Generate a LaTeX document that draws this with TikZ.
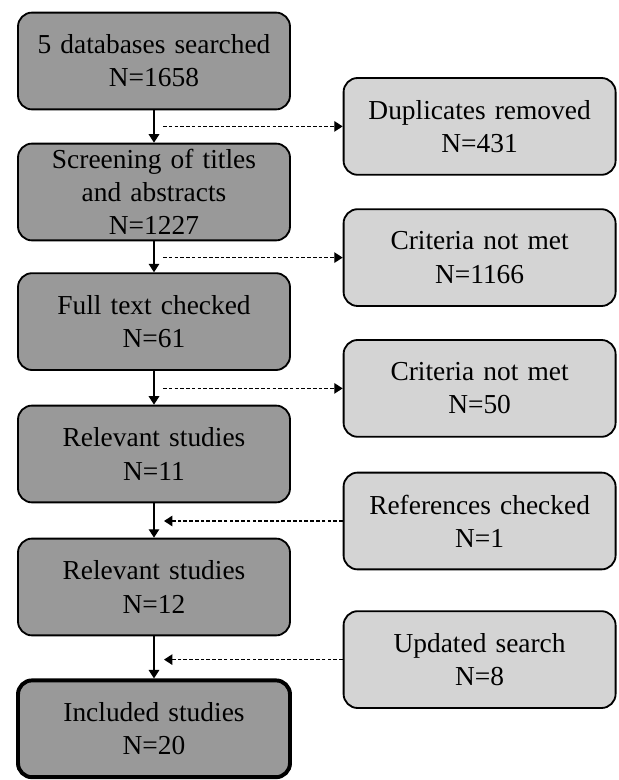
\documentclass[tikz,border=0pt]{standalone}
\usepackage{fontspec}
\setmainfont{Liberation Serif}
\usetikzlibrary{arrows.meta}

\begin{document}
\begin{tikzpicture}[
  font=\fontsize{19.5}{23.6}\selectfont, >={Triangle[length=6pt,width=7.5pt]},
  st/.style={draw=black, line width=1.3pt, rounded corners=10pt, fill=black!40,
    minimum width=6.8cm, minimum height=2.42cm, text width=6.5cm, align=center, inner sep=0pt},
  ex/.style={st, fill=black!17},
  fl/.style={->, draw=black, line width=0.9pt},
  dsh/.style={fl, dash pattern=on 2.6pt off 1.5pt}]
  \useasboundingbox (0,0) rectangle (15.475,19.5);
  % columna principal
  \node[st] (db)   at (3.85,17.975) {5 databases searched\\N=1658};
  \node[st] (scr)  at (3.85,14.7)   {Screening of titles\\and abstracts\\N=1227};
  \node[st] (full) at (3.85,11.46)  {Full text checked\\N=61};
  \node[st] (rel)  at (3.85,8.15)   {Relevant studies\\N=11};
  \node[st] (relb) at (3.85,4.825)  {Relevant studies\\N=12};
  \node[st, line width=2.8pt] (inc) at (3.85,1.28) {Included studies\\N=20};
  % columna derecha
  \node[ex] (dup)  at (11.99,16.34) {Duplicates removed\\N=431};
  \node[ex] (crA)  at (11.99,13.06) {Criteria not met\\N=1166};
  \node[ex] (crB)  at (11.99,9.79)  {Criteria not met\\N=50};
  \node[ex] (ref)  at (11.99,6.475) {References checked\\N=1};
  \node[ex] (upd)  at (11.99,3.01)  {Updated search\\N=8};
  % puntos sobre el tronco
  \coordinate (c1) at (4.075,16.34);
  \coordinate (c2) at (4.075,13.06);
  \coordinate (c3) at (4.075,9.79);
  \coordinate (c4) at (4.1,6.475);
  \coordinate (c5) at (4.1,3.01);
  % flechas
  \draw[fl] (db)--(scr); \draw[fl] (scr)--(full); \draw[fl] (full)--(rel);
  \draw[fl] (rel)--(relb); \draw[fl] (relb)--(inc);
  \draw[dsh] (c1)--(dup); \draw[dsh] (c2)--(crA); \draw[dsh] (c3)--(crB);
  \draw[dsh] (ref)--(c4); \draw[dsh] (upd)--(c5);
\end{tikzpicture}
\end{document}
